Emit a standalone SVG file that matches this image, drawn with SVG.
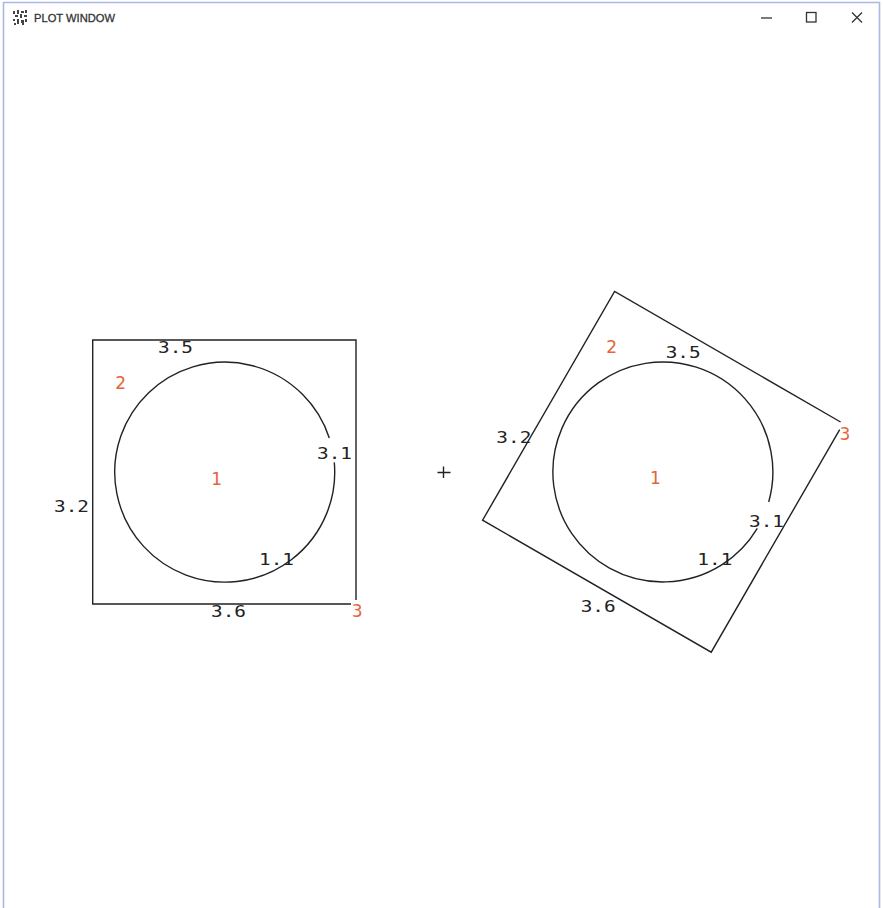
<svg xmlns="http://www.w3.org/2000/svg" width="883" height="908" viewBox="0 0 883 908">
<style>
.ln{fill:none;stroke:#222;stroke-width:1.4}
.lb{font-family:"DejaVu Sans Mono","Liberation Mono",monospace;font-size:15.5px;fill:#222}
.rd{font-family:"DejaVu Sans","Liberation Sans",sans-serif;font-size:17px;fill:#e4643c;text-anchor:middle}
.win{fill:none;stroke:#a9b9e3;stroke-width:1.6}
.btn{fill:none;stroke:#333;stroke-width:1.3}
</style>
<rect width="883" height="908" fill="#fff"/>
<g id="window">
<path class="win" d="M3.5,908 V2.5 H879.5 V908"/>
<g id="icon" fill="#444">
<rect x="13" y="11" width="2" height="3"/><rect x="17" y="10" width="2" height="4"/><rect x="21" y="11" width="3" height="2"/><rect x="25" y="10" width="2" height="3"/>
<rect x="15" y="15" width="3" height="2"/><rect x="20" y="14" width="2" height="4"/><rect x="24" y="15" width="3" height="2"/>
<rect x="13" y="19" width="2" height="2"/><rect x="17" y="19" width="2" height="5"/><rect x="21" y="20" width="3" height="3"/><rect x="25" y="19" width="2" height="3"/>
<rect x="14" y="23" width="2" height="2"/><rect x="22" y="23" width="2" height="2"/>
</g>
<text x="34" y="21.7" font-family="Liberation Sans, Arial, sans-serif" font-size="11.5" fill="#333" stroke="#333" stroke-width="0.3" textLength="81" lengthAdjust="spacingAndGlyphs">PLOT WINDOW</text>
<path class="btn" d="M761,18 H772"/>
<rect class="btn" x="806.5" y="12.5" width="9.5" height="9.5"/>
<path class="btn" d="M852,12.5 L862,22.5 M862,12.5 L852,22.5"/>
</g>
<g id="left-figure">
<path class="ln" d="M351,604 H92.7 V340 H356 V600"/>
<path class="ln" d="M334.3,462.4 A110,110 0 1 1 329.3,438"/>
<g class="lb">
<text x="158" y="353" textLength="35" lengthAdjust="spacingAndGlyphs">3.5</text>
<text x="54" y="511.5" textLength="35" lengthAdjust="spacingAndGlyphs">3.2</text>
<text x="317" y="458.5" textLength="35" lengthAdjust="spacingAndGlyphs">3.1</text>
<text x="259" y="565" textLength="35" lengthAdjust="spacingAndGlyphs">1.1</text>
<text x="211" y="617" textLength="35" lengthAdjust="spacingAndGlyphs">3.6</text>
</g>
<text class="rd" x="120.7" y="389">2</text>
<text class="rd" x="216.7" y="485">1</text>
<text class="rd" x="357.2" y="617">3</text>
</g>
<g id="center-mark">
<path class="ln" d="M437.5,472.5 H450.5 M443.5,466.5 V478"/>
</g>
<g id="right-figure">
<path class="ln" d="M839.7,429.6 L711.2,652.2 L482.6,520.2 L614.6,291.5 L840.6,422"/>
<path class="ln" d="M757.3,528.4 A110,110 0 1 1 768.7,502"/>
<g class="lb">
<text x="665.7" y="358" textLength="35" lengthAdjust="spacingAndGlyphs">3.5</text>
<text x="496.3" y="442.5" textLength="35" lengthAdjust="spacingAndGlyphs">3.2</text>
<text x="749" y="527" textLength="35" lengthAdjust="spacingAndGlyphs">3.1</text>
<text x="697.3" y="565" textLength="35" lengthAdjust="spacingAndGlyphs">1.1</text>
<text x="580.7" y="611.5" textLength="35" lengthAdjust="spacingAndGlyphs">3.6</text>
</g>
<text class="rd" x="611.7" y="353">2</text>
<text class="rd" x="655.3" y="484">1</text>
<text class="rd" x="845" y="440">3</text>
</g>
</svg>
